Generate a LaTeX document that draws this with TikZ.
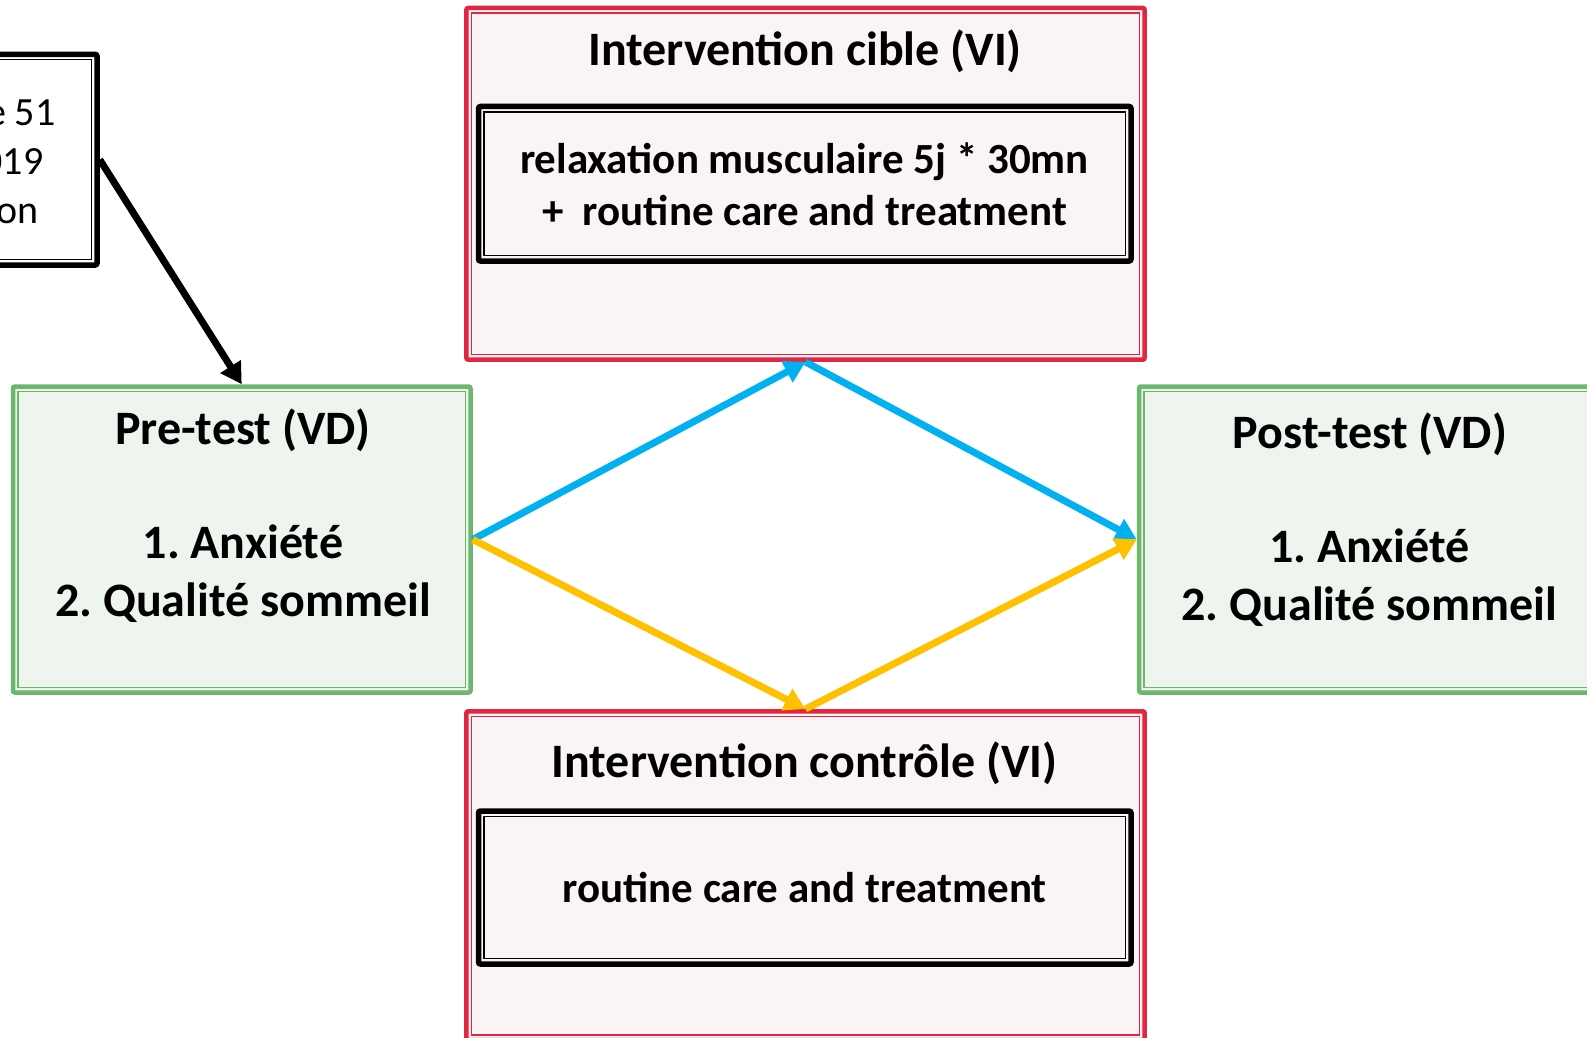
\documentclass[tikz,border=0pt]{standalone}
\usepackage{fontspec}
\setmainfont{Carlito}
\usetikzlibrary{arrows.meta}
\definecolor{boxred}{HTML}{E02640}
\definecolor{boxgreen}{HTML}{6CB66E}
\definecolor{pinkfill}{HTML}{FAF4F4}
\definecolor{greenfill}{HTML}{EEF5EE}
\definecolor{arrowblue}{HTML}{00B0F0}
\definecolor{arrowyellow}{HTML}{FFC000}
\frenchspacing
\begin{document}
\begin{tikzpicture}[x=1pt,y=-1pt,
  redbox/.style={draw=boxred, line width=4.5pt, fill=pinkfill, rounded corners=2pt, inner sep=0pt},
  greenbox/.style={draw=boxgreen, line width=4.5pt, fill=greenfill, rounded corners=2pt, inner sep=0pt},
  blackbox/.style={draw=black, line width=5.5pt, fill=pinkfill, rounded corners=2pt, inner sep=0pt},
  whitebox/.style={draw=black, line width=5.5pt, fill=white, rounded corners=2pt, inner sep=0pt},
  thinline/.style={draw=#1, line width=1.3pt, inner sep=0pt},
  head/.style={font=\fontsize{48}{58}\selectfont\bfseries, anchor=base, inner sep=0pt},
  body/.style={font=\fontsize{43}{52}\selectfont\bfseries, anchor=base, inner sep=0pt},
  notetext/.style={font=\fontsize{40}{48}\selectfont, anchor=base east, inner sep=0pt},
  conn/.style={line width=7pt, -{Triangle[length=21pt,width=23pt]}},
]
\useasboundingbox (0,0) rectangle (1587,1038);
\clip (0,0) rectangle (1587,1038);
\fill[white] (0,0) rectangle (1587,1038);

% top-left (cut) box
\node[whitebox, minimum width=400pt, minimum height=210.7pt] (note) at (-103,159.65) {};
\node[thinline=black, minimum width=389pt, minimum height=199.7pt] (note-in) at (note.center) {};
\node[notetext] (n1) at (55.7,126) {e 51};
\node[notetext] (n2) at (43.5,174.5) {019};
\node[notetext] (n3) at (38.5,223) {on};

% target intervention
\node[redbox, minimum width=678.4pt, minimum height=351.7pt] (cible) at (805.5,183.85) {};
\node[thinline=boxred, minimum width=668.4pt, minimum height=341.7pt] (cible-in) at (cible.center) {};
\node[blackbox, minimum width=652.5pt, minimum height=154.5pt] (cibbox) at (804.75,183.75) {};
\node[thinline=black, minimum width=641.5pt, minimum height=143.5pt] (cibbox-in) at (cibbox.center) {};
\node[head] (t1) at (805,66) {Intervention cible (VI)};
\node[body] (t2) at (804.5,173) {relaxation musculaire 5j * 30mn};
\node[body] (t3) at (804.5,225.5) {+\ \ routine care and treatment};

% control intervention
\node[redbox, minimum width=678.4pt, minimum height=328.7pt] (ctrl) at (805.5,875.65) {};
\node[thinline=boxred, minimum width=668.4pt, minimum height=318.7pt] (ctrl-in) at (ctrl.center) {};
\node[blackbox, minimum width=652.5pt, minimum height=153pt] (ctrlbox) at (804.75,887.5) {};
\node[thinline=black, minimum width=641.5pt, minimum height=142pt] (ctrlbox-in) at (ctrlbox.center) {};
\node[head] (c1) at (804.6,777) {Intervention contrôle (VI)};
\node[body] (c2) at (804.6,902.6) {routine care and treatment};

% pre-test
\node[greenbox, minimum width=457.5pt, minimum height=306pt] (pre) at (241.75,539.5) {};
\node[thinline=boxgreen, minimum width=447.5pt, minimum height=296pt] (pre-in) at (pre.center) {};
\node[head] (p1) at (243,444) {Pre-test (VD)};
\node[head] (p2) at (243,558.5) {1. Anxiété};
\node[head] (p3) at (243,616) {2. Qualité sommeil};

% post-test
\node[greenbox, minimum width=460pt, minimum height=306pt] (post) at (1369,539.5) {};
\node[thinline=boxgreen, minimum width=450pt, minimum height=296pt] (post-in) at (post.center) {};
\node[head] (q1) at (1370,448) {Post-test (VD)};
\node[head] (q2) at (1369.5,562.5) {1. Anxiété};
\node[head] (q3) at (1369.5,620) {2. Qualité sommeil};

% connectors
\draw[conn, black] (note.east) -- (pre.north);
\draw[conn, arrowblue] (pre.east) -- (cible.south);
\draw[conn, arrowblue] (cible.south) -- (post.west);
\draw[conn, arrowyellow] (pre.east) -- (ctrl.north);
\draw[conn, arrowyellow] (ctrl.north) -- (post.west);
\end{tikzpicture}
\end{document}
